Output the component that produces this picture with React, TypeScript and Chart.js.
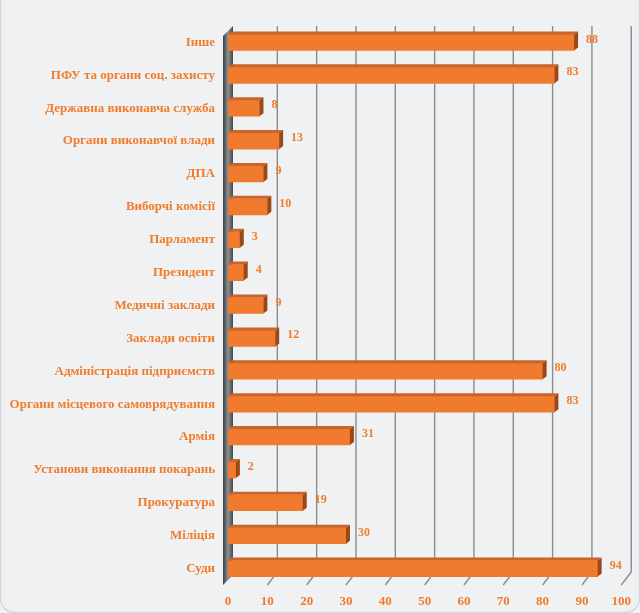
import React, { useEffect, useRef } from "react";
import { Chart, registerables } from "chart.js";

Chart.register(...registerables);

const categories = [
  "Інше",
  "ПФУ та органи соц. захисту",
  "Державна виконавча служба",
  "Органи виконавчої влади",
  "ДПА",
  "Виборчі комісії",
  "Парламент",
  "Президент",
  "Медичні заклади",
  "Заклади освіти",
  "Адміністрація підприємств",
  "Органи місцевого самоврядування",
  "Армія",
  "Установи виконання покарань",
  "Прокуратура",
  "Міліція",
  "Суди",
];
const values = [88, 83, 8, 13, 9, 10, 3, 4, 9, 12, 80, 83, 31, 2, 19, 30, 94];
const xTicks = [0, 10, 20, 30, 40, 50, 60, 70, 80, 90, 100];

const ORANGE = "#f07c2c";
const FONT = "'Liberation Serif', serif";

const decor = {
  id: "decor",
  beforeDraw(chart: any) {
    const { ctx, width, height } = chart;
    ctx.save();
    ctx.fillStyle = "#eff1f2";
    ctx.fillRect(0, 0, width, height);
    ctx.strokeStyle = "#d5d8da";
    ctx.lineWidth = 1.5;
    ctx.beginPath();
    (ctx as any).roundRect(0.5, -20, width - 1, height - 0.5 + 20, 14);
    ctx.stroke();
    ctx.restore();
  },
  beforeDatasetsDraw(chart: any) {
    const { ctx, chartArea, scales } = chart;
    const x = scales.x;
    const top = chartArea.top;
    const bottom = chartArea.bottom;
    const d = 10;
    const foot = 13;
    ctx.save();
    for (const v of xTicks) {
      if (v === 0) continue;
      const px = x.getPixelForValue(v);
      ctx.strokeStyle = "#8a8d90";
      ctx.lineWidth = 1.4;
      ctx.beginPath();
      ctx.moveTo(px + d, top);
      ctx.lineTo(px + d, bottom - foot);
      ctx.lineTo(px, bottom);
      ctx.stroke();
    }
    const lx = x.getPixelForValue(0);
    const g = ctx.createLinearGradient(lx - 5, 0, lx + 5, 0);
    g.addColorStop(0, "#3a3d3f");
    g.addColorStop(0.5, "#8e9194");
    g.addColorStop(1, "#45484b");
    ctx.fillStyle = g;
    ctx.beginPath();
    ctx.moveTo(lx - 5, top + 10);
    ctx.lineTo(lx + 5, top);
    ctx.lineTo(lx + 5, bottom - 10);
    ctx.lineTo(lx - 5, bottom);
    ctx.closePath();
    ctx.fill();
    ctx.restore();
  },
  afterDatasetsDraw(chart: any) {
    const { ctx } = chart;
    const meta = chart.getDatasetMeta(0);
    const dx = 4;
    const dy = 3;
    ctx.save();
    meta.data.forEach((bar: any, i: number) => {
      const xe = bar.x;
      const xb = bar.base;
      const h = bar.height;
      const y0 = bar.y - h / 2;
      const y1 = bar.y + h / 2;
      ctx.fillStyle = "#c9642a";
      ctx.beginPath();
      ctx.moveTo(xb, y0);
      ctx.lineTo(xb + dx, y0 - dy);
      ctx.lineTo(xe + dx, y0 - dy);
      ctx.lineTo(xe, y0);
      ctx.closePath();
      ctx.fill();
      ctx.fillStyle = "#9c4716";
      ctx.beginPath();
      ctx.moveTo(xe, y0);
      ctx.lineTo(xe + dx, y0 - dy);
      ctx.lineTo(xe + dx, y1 - dy);
      ctx.lineTo(xe, y1);
      ctx.closePath();
      ctx.fill();
      ctx.fillStyle = ORANGE;
      ctx.font = `bold 12px ${FONT}`;
      ctx.textAlign = "left";
      ctx.textBaseline = "middle";
      ctx.fillText(String(values[i]), xe + dx + 8, bar.y - 3);
    });
    ctx.restore();
  },
};

export default function App() {
  const ref = useRef<HTMLCanvasElement>(null);
  useEffect(() => {
    document.body.style.margin = "0";
    const canvas = ref.current!;
    const chart = new Chart(canvas, {
      type: "bar",
      data: {
        labels: categories,
        datasets: [
          {
            data: values,
            barThickness: 16,
            borderWidth: 0,
            backgroundColor: (c: any) => {
              const el = c.element;
              if (!el || el.y === undefined) return "#f07a2e";
              const g = c.chart.ctx.createLinearGradient(0, el.y - 8, 0, el.y + 8);
              g.addColorStop(0, "#f58c48");
              g.addColorStop(0.5, "#f07a2e");
              g.addColorStop(1, "#e0691f");
              return g;
            },
          },
        ],
      },
      options: {
        indexAxis: "y",
        animation: false,
        responsive: false,
        maintainAspectRatio: false,
        layout: { padding: { top: 26, right: 12, left: 0, bottom: 0 } },
        plugins: { legend: { display: false }, tooltip: { enabled: false }, title: { display: false } },
        scales: {
          x: {
            min: 0,
            max: 100,
            border: { display: false },
            grid: { display: false, drawTicks: false },
            ticks: {
              stepSize: 10,
              color: ORANGE,
              font: { family: FONT, size: 13, weight: "bold" },
              padding: 9,
            },
            afterFit: (s: any) => {
              s.height = 28;
            },
          },
          y: {
            border: { display: false },
            grid: { display: false, drawTicks: false },
            ticks: {
              color: ORANGE,
              font: { family: FONT, size: 13, weight: "bold" },
              padding: 13,
              autoSkip: false,
            },
            afterFit: (s: any) => {
              s.width = 228;
            },
          },
        },
      },
      plugins: [decor],
    } as any);
    return () => chart.destroy();
  }, []);
  return (
    <div style={{ width: 640, height: 613 }}>
      <canvas ref={ref} width={640} height={613} style={{ display: "block" }} />
    </div>
  );
}
